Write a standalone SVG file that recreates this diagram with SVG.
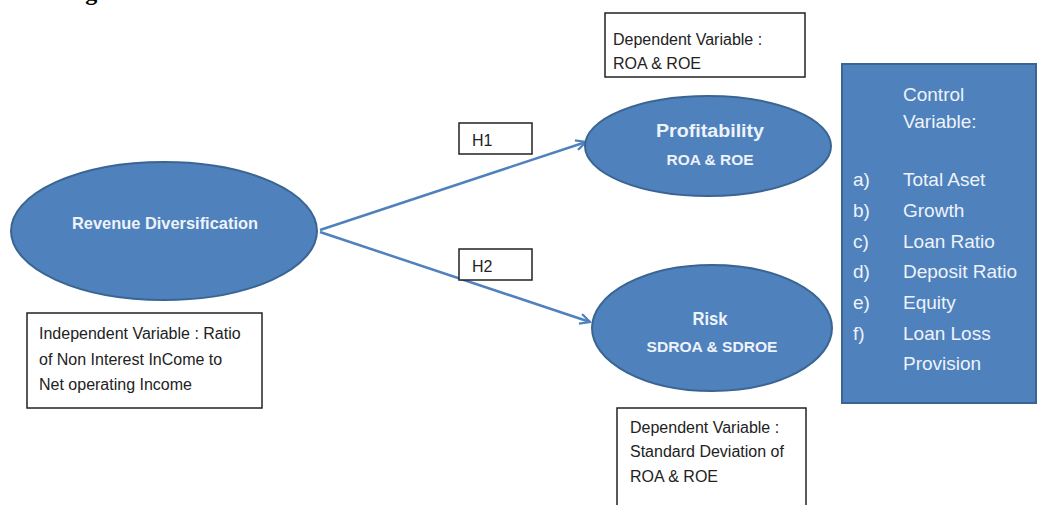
<svg xmlns="http://www.w3.org/2000/svg" width="1039" height="505" viewBox="0 0 1039 505">
<style>
  .ell { fill: #4f81bd; stroke: #3a6593; stroke-width: 2; }
  .ctl { fill: #4f81bd; stroke: #3a6593; stroke-width: 2; }
  .box { fill: #ffffff; stroke: #222222; stroke-width: 1.5; }
  .t { font-family: "Liberation Sans", Arial, sans-serif; font-size: 16px; fill: #222222; }
  .w { font-family: "Liberation Sans", Arial, sans-serif; fill: #eef3fa; font-weight: bold; }
  .c { font-family: "Liberation Sans", Arial, sans-serif; font-size: 19px; fill: #eef3fa; }
  .conn { stroke: #4f81bd; stroke-width: 2.5; fill: none; }
</style>
<defs>
  <marker id="arr" viewBox="0 0 12 12" refX="11" refY="6" markerWidth="12" markerHeight="12" markerUnits="userSpaceOnUse" orient="auto">
    <path d="M1,1 L11,6 L1,11" fill="none" stroke="#4f81bd" stroke-width="2.2"/>
  </marker>
</defs>
<rect x="0" y="0" width="1039" height="505" fill="#ffffff"/>
<text x="64" y="0" font-family="'Liberation Serif', 'Times New Roman', serif" font-weight="bold" font-size="24" fill="#000000">Figure</text>

<g id="connectors">
  <line class="conn" x1="320" y1="230" x2="586" y2="142" marker-end="url(#arr)"/>
  <line class="conn" x1="320" y1="232" x2="590" y2="322" marker-end="url(#arr)"/>
</g>

<g id="revenue">
  <ellipse class="ell" cx="164" cy="231" rx="153" ry="69"/>
  <text class="w" x="165" y="229" font-size="17" text-anchor="middle" textLength="186" lengthAdjust="spacingAndGlyphs">Revenue Diversification</text>
</g>

<g id="independent">
  <rect class="box" x="27" y="313" width="235" height="95"/>
  <text class="t" x="39" y="339">Independent Variable : Ratio</text>
  <text class="t" x="39" y="365">of Non Interest InCome to</text>
  <text class="t" x="39" y="390">Net operating Income</text>
</g>

<g id="h1">
  <rect class="box" x="459" y="123" width="73" height="31"/>
  <text class="t" x="472" y="146" font-size="15">H1</text>
</g>

<g id="h2">
  <rect class="box" x="459" y="249" width="73" height="31"/>
  <text class="t" x="472" y="272" font-size="15">H2</text>
</g>

<g id="dep-top">
  <rect class="box" x="605" y="13" width="200" height="64"/>
  <text class="t" x="613" y="45">Dependent Variable :</text>
  <text class="t" x="613" y="69">ROA &amp; ROE</text>
</g>

<g id="profitability">
  <ellipse class="ell" cx="708" cy="146" rx="123" ry="50"/>
  <text class="w" x="710" y="137" font-size="18" text-anchor="middle" textLength="108" lengthAdjust="spacingAndGlyphs">Profitability</text>
  <text class="w" x="710" y="165" font-size="15" text-anchor="middle" textLength="87" lengthAdjust="spacingAndGlyphs">ROA &amp; ROE</text>
</g>

<g id="risk">
  <ellipse class="ell" cx="712" cy="328" rx="120" ry="63"/>
  <text class="w" x="710" y="325" font-size="19" text-anchor="middle" textLength="35" lengthAdjust="spacingAndGlyphs">Risk</text>
  <text class="w" x="712" y="352" font-size="15" text-anchor="middle" textLength="131" lengthAdjust="spacingAndGlyphs">SDROA &amp; SDROE</text>
</g>

<g id="dep-bottom">
  <rect class="box" x="617" y="408" width="189" height="110"/>
  <text class="t" x="630" y="433">Dependent Variable :</text>
  <text class="t" x="630" y="457">Standard Deviation of</text>
  <text class="t" x="630" y="482">ROA &amp; ROE</text>
</g>

<g id="control">
  <rect class="ctl" x="842" y="64" width="194" height="339"/>
  <text class="c" x="903" y="101">Control</text>
  <text class="c" x="903" y="128">Variable:</text>
  <text class="c" x="853" y="186">a)</text><text class="c" x="903" y="186">Total Aset</text>
  <text class="c" x="853" y="217">b)</text><text class="c" x="903" y="217">Growth</text>
  <text class="c" x="853" y="248">c)</text><text class="c" x="903" y="248">Loan Ratio</text>
  <text class="c" x="853" y="278">d)</text><text class="c" x="903" y="278">Deposit Ratio</text>
  <text class="c" x="853" y="309">e)</text><text class="c" x="903" y="309">Equity</text>
  <text class="c" x="853" y="340">f)</text><text class="c" x="903" y="340">Loan Loss</text>
  <text class="c" x="903" y="370">Provision</text>
</g>
</svg>
